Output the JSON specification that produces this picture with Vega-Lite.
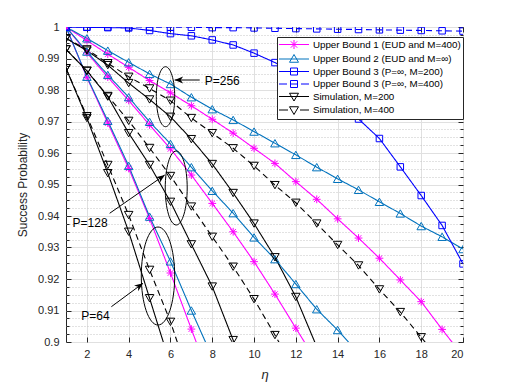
{
  "$schema": "https://vega.github.io/schema/vega-lite/v6.json",
  "width": 397,
  "height": 315,
  "autosize": {"type": "none"},
  "padding": {"left": 66, "top": 27, "right": 49, "bottom": 42},
  "background": "white",
  "config": {
    "font": "Liberation Sans",
    "view": {"stroke": "#262626", "strokeWidth": 1},
    "axis": {"domain": false, "labelFont": "Liberation Sans", "titleFont": "Liberation Sans", "labelColor": "#262626", "titleColor": "#262626", "tickColor": "#262626", "labelFontSize": 11, "titleFontWeight": "normal"},
    "legend": {"orient": "none", "legendX": 211, "legendY": 10, "title": null, "zindex": 1,
            "symbolSize": 100, "symbolOffset": 9.5, "labelOffset": 13.4, "rowPadding": 1.5, "padding": 2, "symbolOpacity": 1, "symbolFillColor": "transparent",
            "strokeColor": "#262626", "fillColor": "white", "labelFont": "Liberation Sans", "labelFontSize": 9.8, "labelColor": "#000000", "labelLimit": 300, "symbolStrokeWidth": 1}
  },
  "datasets": {
    "curves": [
      {"s":"Upper Bound 1 (EUD and M=400)","c":"256","x":1,"y":1.0},
      {"s":"Upper Bound 1 (EUD and M=400)","c":"256","x":2,"y":0.9957},
      {"s":"Upper Bound 1 (EUD and M=400)","c":"256","x":3,"y":0.9914},
      {"s":"Upper Bound 1 (EUD and M=400)","c":"256","x":4,"y":0.9872},
      {"s":"Upper Bound 1 (EUD and M=400)","c":"256","x":5,"y":0.9830},
      {"s":"Upper Bound 1 (EUD and M=400)","c":"256","x":6,"y":0.9791},
      {"s":"Upper Bound 1 (EUD and M=400)","c":"256","x":7,"y":0.9750},
      {"s":"Upper Bound 1 (EUD and M=400)","c":"256","x":8,"y":0.9707},
      {"s":"Upper Bound 1 (EUD and M=400)","c":"256","x":9,"y":0.9663},
      {"s":"Upper Bound 1 (EUD and M=400)","c":"256","x":10,"y":0.9615},
      {"s":"Upper Bound 1 (EUD and M=400)","c":"256","x":11,"y":0.9567},
      {"s":"Upper Bound 1 (EUD and M=400)","c":"256","x":12,"y":0.9509},
      {"s":"Upper Bound 1 (EUD and M=400)","c":"256","x":13,"y":0.9453},
      {"s":"Upper Bound 1 (EUD and M=400)","c":"256","x":14,"y":0.9391},
      {"s":"Upper Bound 1 (EUD and M=400)","c":"256","x":15,"y":0.9330},
      {"s":"Upper Bound 1 (EUD and M=400)","c":"256","x":16,"y":0.9266},
      {"s":"Upper Bound 1 (EUD and M=400)","c":"256","x":17,"y":0.9197},
      {"s":"Upper Bound 1 (EUD and M=400)","c":"256","x":18,"y":0.9128},
      {"s":"Upper Bound 1 (EUD and M=400)","c":"256","x":19,"y":0.9040},
      {"s":"Upper Bound 1 (EUD and M=400)","c":"256","x":20,"y":0.8955},
      {"s":"Upper Bound 1 (EUD and M=400)","c":"128","x":1,"y":1.0},
      {"s":"Upper Bound 1 (EUD and M=400)","c":"128","x":2,"y":0.9918},
      {"s":"Upper Bound 1 (EUD and M=400)","c":"128","x":3,"y":0.9841},
      {"s":"Upper Bound 1 (EUD and M=400)","c":"128","x":4,"y":0.9767},
      {"s":"Upper Bound 1 (EUD and M=400)","c":"128","x":5,"y":0.9689},
      {"s":"Upper Bound 1 (EUD and M=400)","c":"128","x":6,"y":0.9613},
      {"s":"Upper Bound 1 (EUD and M=400)","c":"128","x":7,"y":0.9530},
      {"s":"Upper Bound 1 (EUD and M=400)","c":"128","x":8,"y":0.9440},
      {"s":"Upper Bound 1 (EUD and M=400)","c":"128","x":9,"y":0.9350},
      {"s":"Upper Bound 1 (EUD and M=400)","c":"128","x":10,"y":0.9255},
      {"s":"Upper Bound 1 (EUD and M=400)","c":"128","x":11,"y":0.9152},
      {"s":"Upper Bound 1 (EUD and M=400)","c":"128","x":12,"y":0.9044},
      {"s":"Upper Bound 1 (EUD and M=400)","c":"128","x":13,"y":0.8937},
      {"s":"Upper Bound 1 (EUD and M=400)","c":"64","x":1,"y":1.0},
      {"s":"Upper Bound 1 (EUD and M=400)","c":"64","x":2,"y":0.9840},
      {"s":"Upper Bound 1 (EUD and M=400)","c":"64","x":3,"y":0.9695},
      {"s":"Upper Bound 1 (EUD and M=400)","c":"64","x":4,"y":0.9551},
      {"s":"Upper Bound 1 (EUD and M=400)","c":"64","x":5,"y":0.9392},
      {"s":"Upper Bound 1 (EUD and M=400)","c":"64","x":6,"y":0.9219},
      {"s":"Upper Bound 1 (EUD and M=400)","c":"64","x":7,"y":0.9041},
      {"s":"Upper Bound 1 (EUD and M=400)","c":"64","x":8,"y":0.8863},
      {"s":"Upper Bound 2 (EUD and M=∞)","c":"256","x":1,"y":1.0},
      {"s":"Upper Bound 2 (EUD and M=∞)","c":"256","x":2,"y":0.9964},
      {"s":"Upper Bound 2 (EUD and M=∞)","c":"256","x":3,"y":0.9925},
      {"s":"Upper Bound 2 (EUD and M=∞)","c":"256","x":4,"y":0.9888},
      {"s":"Upper Bound 2 (EUD and M=∞)","c":"256","x":5,"y":0.9851},
      {"s":"Upper Bound 2 (EUD and M=∞)","c":"256","x":6,"y":0.9819},
      {"s":"Upper Bound 2 (EUD and M=∞)","c":"256","x":7,"y":0.9777},
      {"s":"Upper Bound 2 (EUD and M=∞)","c":"256","x":8,"y":0.9739},
      {"s":"Upper Bound 2 (EUD and M=∞)","c":"256","x":9,"y":0.9705},
      {"s":"Upper Bound 2 (EUD and M=∞)","c":"256","x":10,"y":0.9668},
      {"s":"Upper Bound 2 (EUD and M=∞)","c":"256","x":11,"y":0.9631},
      {"s":"Upper Bound 2 (EUD and M=∞)","c":"256","x":12,"y":0.9594},
      {"s":"Upper Bound 2 (EUD and M=∞)","c":"256","x":13,"y":0.9555},
      {"s":"Upper Bound 2 (EUD and M=∞)","c":"256","x":14,"y":0.9518},
      {"s":"Upper Bound 2 (EUD and M=∞)","c":"256","x":15,"y":0.9483},
      {"s":"Upper Bound 2 (EUD and M=∞)","c":"256","x":16,"y":0.9445},
      {"s":"Upper Bound 2 (EUD and M=∞)","c":"256","x":17,"y":0.9408},
      {"s":"Upper Bound 2 (EUD and M=∞)","c":"256","x":18,"y":0.9368},
      {"s":"Upper Bound 2 (EUD and M=∞)","c":"256","x":19,"y":0.9334},
      {"s":"Upper Bound 2 (EUD and M=∞)","c":"256","x":20,"y":0.9295},
      {"s":"Upper Bound 2 (EUD and M=∞)","c":"128","x":1,"y":1.0},
      {"s":"Upper Bound 2 (EUD and M=∞)","c":"128","x":2,"y":0.9922},
      {"s":"Upper Bound 2 (EUD and M=∞)","c":"128","x":3,"y":0.9848},
      {"s":"Upper Bound 2 (EUD and M=∞)","c":"128","x":4,"y":0.9777},
      {"s":"Upper Bound 2 (EUD and M=∞)","c":"128","x":5,"y":0.9699},
      {"s":"Upper Bound 2 (EUD and M=∞)","c":"128","x":6,"y":0.9629},
      {"s":"Upper Bound 2 (EUD and M=∞)","c":"128","x":7,"y":0.9555},
      {"s":"Upper Bound 2 (EUD and M=∞)","c":"128","x":8,"y":0.9480},
      {"s":"Upper Bound 2 (EUD and M=∞)","c":"128","x":9,"y":0.9409},
      {"s":"Upper Bound 2 (EUD and M=∞)","c":"128","x":10,"y":0.9332},
      {"s":"Upper Bound 2 (EUD and M=∞)","c":"128","x":11,"y":0.9263},
      {"s":"Upper Bound 2 (EUD and M=∞)","c":"128","x":12,"y":0.9184},
      {"s":"Upper Bound 2 (EUD and M=∞)","c":"128","x":13,"y":0.9104},
      {"s":"Upper Bound 2 (EUD and M=∞)","c":"128","x":14,"y":0.9038},
      {"s":"Upper Bound 2 (EUD and M=∞)","c":"128","x":15,"y":0.8965},
      {"s":"Upper Bound 2 (EUD and M=∞)","c":"64","x":1,"y":1.0},
      {"s":"Upper Bound 2 (EUD and M=∞)","c":"64","x":2,"y":0.9842},
      {"s":"Upper Bound 2 (EUD and M=∞)","c":"64","x":3,"y":0.9702},
      {"s":"Upper Bound 2 (EUD and M=∞)","c":"64","x":4,"y":0.9559},
      {"s":"Upper Bound 2 (EUD and M=∞)","c":"64","x":5,"y":0.9398},
      {"s":"Upper Bound 2 (EUD and M=∞)","c":"64","x":6,"y":0.9256},
      {"s":"Upper Bound 2 (EUD and M=∞)","c":"64","x":7,"y":0.9100},
      {"s":"Upper Bound 2 (EUD and M=∞)","c":"64","x":8,"y":0.8952},
      {"s":"Upper Bound 3 (P=∞, M=200)","c":"inf","x":1,"y":1.0},
      {"s":"Upper Bound 3 (P=∞, M=200)","c":"inf","x":2,"y":0.9999},
      {"s":"Upper Bound 3 (P=∞, M=200)","c":"inf","x":3,"y":0.9998},
      {"s":"Upper Bound 3 (P=∞, M=200)","c":"inf","x":4,"y":0.9997},
      {"s":"Upper Bound 3 (P=∞, M=200)","c":"inf","x":5,"y":0.9989},
      {"s":"Upper Bound 3 (P=∞, M=200)","c":"inf","x":6,"y":0.9979},
      {"s":"Upper Bound 3 (P=∞, M=200)","c":"inf","x":7,"y":0.9972},
      {"s":"Upper Bound 3 (P=∞, M=200)","c":"inf","x":8,"y":0.9959},
      {"s":"Upper Bound 3 (P=∞, M=200)","c":"inf","x":9,"y":0.9943},
      {"s":"Upper Bound 3 (P=∞, M=200)","c":"inf","x":10,"y":0.9917},
      {"s":"Upper Bound 3 (P=∞, M=200)","c":"inf","x":11,"y":0.9887},
      {"s":"Upper Bound 3 (P=∞, M=200)","c":"inf","x":12,"y":0.9852},
      {"s":"Upper Bound 3 (P=∞, M=200)","c":"inf","x":13,"y":0.9810},
      {"s":"Upper Bound 3 (P=∞, M=200)","c":"inf","x":14,"y":0.9763},
      {"s":"Upper Bound 3 (P=∞, M=200)","c":"inf","x":15,"y":0.9708},
      {"s":"Upper Bound 3 (P=∞, M=200)","c":"inf","x":16,"y":0.9646},
      {"s":"Upper Bound 3 (P=∞, M=200)","c":"inf","x":17,"y":0.9556},
      {"s":"Upper Bound 3 (P=∞, M=200)","c":"inf","x":18,"y":0.9465},
      {"s":"Upper Bound 3 (P=∞, M=200)","c":"inf","x":19,"y":0.9370},
      {"s":"Upper Bound 3 (P=∞, M=200)","c":"inf","x":20,"y":0.9248},
      {"s":"Upper Bound 3 (P=∞, M=400)","c":"inf","x":1,"y":1.0},
      {"s":"Upper Bound 3 (P=∞, M=400)","c":"inf","x":2,"y":1.0},
      {"s":"Upper Bound 3 (P=∞, M=400)","c":"inf","x":3,"y":1.0},
      {"s":"Upper Bound 3 (P=∞, M=400)","c":"inf","x":4,"y":1.0},
      {"s":"Upper Bound 3 (P=∞, M=400)","c":"inf","x":5,"y":1.0},
      {"s":"Upper Bound 3 (P=∞, M=400)","c":"inf","x":6,"y":0.9999},
      {"s":"Upper Bound 3 (P=∞, M=400)","c":"inf","x":7,"y":0.9999},
      {"s":"Upper Bound 3 (P=∞, M=400)","c":"inf","x":8,"y":0.9998},
      {"s":"Upper Bound 3 (P=∞, M=400)","c":"inf","x":9,"y":0.9998},
      {"s":"Upper Bound 3 (P=∞, M=400)","c":"inf","x":10,"y":0.9997},
      {"s":"Upper Bound 3 (P=∞, M=400)","c":"inf","x":11,"y":0.9996},
      {"s":"Upper Bound 3 (P=∞, M=400)","c":"inf","x":12,"y":0.9995},
      {"s":"Upper Bound 3 (P=∞, M=400)","c":"inf","x":13,"y":0.9994},
      {"s":"Upper Bound 3 (P=∞, M=400)","c":"inf","x":14,"y":0.9993},
      {"s":"Upper Bound 3 (P=∞, M=400)","c":"inf","x":15,"y":0.9992},
      {"s":"Upper Bound 3 (P=∞, M=400)","c":"inf","x":16,"y":0.9991},
      {"s":"Upper Bound 3 (P=∞, M=400)","c":"inf","x":17,"y":0.9990},
      {"s":"Upper Bound 3 (P=∞, M=400)","c":"inf","x":18,"y":0.9989},
      {"s":"Upper Bound 3 (P=∞, M=400)","c":"inf","x":19,"y":0.9988},
      {"s":"Upper Bound 3 (P=∞, M=400)","c":"inf","x":20,"y":0.9987},
      {"s":"Simulation, M=200","c":"256","x":1,"y":0.9964},
      {"s":"Simulation, M=200","c":"256","x":2,"y":0.9925},
      {"s":"Simulation, M=200","c":"256","x":3,"y":0.9879},
      {"s":"Simulation, M=200","c":"256","x":4,"y":0.9822},
      {"s":"Simulation, M=200","c":"256","x":5,"y":0.9770},
      {"s":"Simulation, M=200","c":"256","x":6,"y":0.9715},
      {"s":"Simulation, M=200","c":"256","x":7,"y":0.9644},
      {"s":"Simulation, M=200","c":"256","x":8,"y":0.9565},
      {"s":"Simulation, M=200","c":"256","x":9,"y":0.9473},
      {"s":"Simulation, M=200","c":"256","x":10,"y":0.9376},
      {"s":"Simulation, M=200","c":"256","x":11,"y":0.9269},
      {"s":"Simulation, M=200","c":"256","x":12,"y":0.9143},
      {"s":"Simulation, M=200","c":"256","x":13,"y":0.8985},
      {"s":"Simulation, M=200","c":"128","x":1,"y":0.9929},
      {"s":"Simulation, M=200","c":"128","x":2,"y":0.9861},
      {"s":"Simulation, M=200","c":"128","x":3,"y":0.9779},
      {"s":"Simulation, M=200","c":"128","x":4,"y":0.9663},
      {"s":"Simulation, M=200","c":"128","x":5,"y":0.9562},
      {"s":"Simulation, M=200","c":"128","x":6,"y":0.9445},
      {"s":"Simulation, M=200","c":"128","x":7,"y":0.9310},
      {"s":"Simulation, M=200","c":"128","x":8,"y":0.9176},
      {"s":"Simulation, M=200","c":"128","x":9,"y":0.9006},
      {"s":"Simulation, M=200","c":"128","x":10,"y":0.8830},
      {"s":"Simulation, M=200","c":"64","x":1,"y":0.9869},
      {"s":"Simulation, M=200","c":"64","x":2,"y":0.9711},
      {"s":"Simulation, M=200","c":"64","x":3,"y":0.9536},
      {"s":"Simulation, M=200","c":"64","x":4,"y":0.9350},
      {"s":"Simulation, M=200","c":"64","x":5,"y":0.9139},
      {"s":"Simulation, M=200","c":"64","x":6,"y":0.8927},
      {"s":"Simulation, M=400","c":"256","x":1,"y":0.9964},
      {"s":"Simulation, M=400","c":"256","x":2,"y":0.9929},
      {"s":"Simulation, M=400","c":"256","x":3,"y":0.9885},
      {"s":"Simulation, M=400","c":"256","x":4,"y":0.9842},
      {"s":"Simulation, M=400","c":"256","x":5,"y":0.9805},
      {"s":"Simulation, M=400","c":"256","x":6,"y":0.9766},
      {"s":"Simulation, M=400","c":"256","x":7,"y":0.9711},
      {"s":"Simulation, M=400","c":"256","x":8,"y":0.9663},
      {"s":"Simulation, M=400","c":"256","x":9,"y":0.9615},
      {"s":"Simulation, M=400","c":"256","x":10,"y":0.9559},
      {"s":"Simulation, M=400","c":"256","x":11,"y":0.9498},
      {"s":"Simulation, M=400","c":"256","x":12,"y":0.9442},
      {"s":"Simulation, M=400","c":"256","x":13,"y":0.9376},
      {"s":"Simulation, M=400","c":"256","x":14,"y":0.9308},
      {"s":"Simulation, M=400","c":"256","x":15,"y":0.9243},
      {"s":"Simulation, M=400","c":"256","x":16,"y":0.9167},
      {"s":"Simulation, M=400","c":"256","x":17,"y":0.9095},
      {"s":"Simulation, M=400","c":"256","x":18,"y":0.9015},
      {"s":"Simulation, M=400","c":"256","x":19,"y":0.8933},
      {"s":"Simulation, M=400","c":"128","x":1,"y":0.9929},
      {"s":"Simulation, M=400","c":"128","x":2,"y":0.9861},
      {"s":"Simulation, M=400","c":"128","x":3,"y":0.9781},
      {"s":"Simulation, M=400","c":"128","x":4,"y":0.9702},
      {"s":"Simulation, M=400","c":"128","x":5,"y":0.9616},
      {"s":"Simulation, M=400","c":"128","x":6,"y":0.9527},
      {"s":"Simulation, M=400","c":"128","x":7,"y":0.9430},
      {"s":"Simulation, M=400","c":"128","x":8,"y":0.9334},
      {"s":"Simulation, M=400","c":"128","x":9,"y":0.9239},
      {"s":"Simulation, M=400","c":"128","x":10,"y":0.9136},
      {"s":"Simulation, M=400","c":"128","x":11,"y":0.9022},
      {"s":"Simulation, M=400","c":"128","x":12,"y":0.8905},
      {"s":"Simulation, M=400","c":"64","x":1,"y":0.9869},
      {"s":"Simulation, M=400","c":"64","x":2,"y":0.9717},
      {"s":"Simulation, M=400","c":"64","x":3,"y":0.9562},
      {"s":"Simulation, M=400","c":"64","x":4,"y":0.9403},
      {"s":"Simulation, M=400","c":"64","x":5,"y":0.9229},
      {"s":"Simulation, M=400","c":"64","x":6,"y":0.9064},
      {"s":"Simulation, M=400","c":"64","x":7,"y":0.8867}
    ],
    "ann": [
      {"label":"P=256","tx":7.64,"ty":0.98286,"ax":7.40,"ay":0.98317,"hx":6.20,"hy":0.98317,"ex":5.763,"ey":0.97787},
      {"label":"P=128","tx":1.316,"ty":0.93778,"ax":3.089,"ay":0.94086,"hx":5.724,"hy":0.95302,"ex":6.275,"ey":0.94889},
      {"label":"P=64","tx":1.733,"ty":0.90825,"ax":3.171,"ay":0.91121,"hx":4.685,"hy":0.91863,"ex":5.403,"ey":0.92095}
    ]
  },
  "resolve": {"axis": {"x": "independent", "y": "independent"}},
  "layer": [
    {
      "data": {"name": "curves"},
      "mark": {"type": "point", "opacity": 0},
      "encoding": {
        "x": {"field": "x", "type": "quantitative", "scale": {"domain": [1, 20], "nice": false, "zero": false},
          "axis": {"orient": "bottom", "values": [2,4,6,8,10,12,14,16,18,20], "grid": true, "gridColor": "#e0e0e0", "gridWidth": 1, "tickSize": -5, "labelPadding": 11, "title": "η", "titleFontStyle": "italic", "titleFontSize": 13, "titlePadding": 9}},
        "y": {"field": "y", "type": "quantitative", "scale": {"domain": [0.9, 1], "nice": false, "zero": false},
          "axis": {"orient": "left", "values": [0.9025,0.905,0.9075,0.9125,0.915,0.9175,0.9225,0.925,0.9275,0.9325,0.935,0.9375,0.9425,0.945,0.9475,0.9525,0.955,0.9575,0.9625,0.965,0.9675,0.9725,0.975,0.9775,0.9825,0.985,0.9875,0.9925,0.995,0.9975], "grid": true, "gridDash": [1, 2], "gridColor": "#c4c4c4", "tickSize": -3, "labels": false, "title": null}}
      }
    },
    {
      "data": {"name": "curves"},
      "mark": {"type": "point", "opacity": 0},
      "encoding": {
        "x": {"field": "x", "type": "quantitative", "scale": {"domain": [1, 20], "nice": false, "zero": false},
          "axis": {"orient": "top", "values": [2,4,6,8,10,12,14,16,18,20], "grid": false, "tickSize": -5, "labels": false, "title": null}},
        "y": {"field": "y", "type": "quantitative", "scale": {"domain": [0.9, 1], "nice": false, "zero": false},
          "axis": {"orient": "right", "values": [0.9025,0.905,0.9075,0.9125,0.915,0.9175,0.9225,0.925,0.9275,0.9325,0.935,0.9375,0.9425,0.945,0.9475,0.9525,0.955,0.9575,0.9625,0.965,0.9675,0.9725,0.975,0.9775,0.9825,0.985,0.9875,0.9925,0.995,0.9975], "grid": false, "tickSize": -3, "labels": false, "title": null}}
      }
    },
    {
      "data": {"name": "curves"},
      "mark": {"type": "point", "opacity": 0},
      "encoding": {
        "x": {"field": "x", "type": "quantitative", "scale": {"domain": [1, 20], "nice": false, "zero": false}, "axis": null},
        "y": {"field": "y", "type": "quantitative", "scale": {"domain": [0.9, 1], "nice": false, "zero": false},
          "axis": {"orient": "left", "values": [0.9,0.91,0.92,0.93,0.94,0.95,0.96,0.97,0.98,0.99,1], "format": ".2~f", "grid": true, "gridColor": "#e0e0e0", "tickSize": -5, "labelPadding": 12, "title": "Success Probability", "titleFontSize": 12, "titlePadding": 8}}
      }
    },
    {
      "data": {"name": "curves"},
      "mark": {"type": "point", "opacity": 0},
      "encoding": {
        "x": {"field": "x", "type": "quantitative", "scale": {"domain": [1, 20], "nice": false, "zero": false}, "axis": null},
        "y": {"field": "y", "type": "quantitative", "scale": {"domain": [0.9, 1], "nice": false, "zero": false},
          "axis": {"orient": "right", "values": [0.9,0.91,0.92,0.93,0.94,0.95,0.96,0.97,0.98,0.99,1], "grid": false, "tickSize": -5, "labels": false, "title": null}}
      }
    },
    {
      "data": {"name": "curves"},
      "mark": {"type": "line", "clip": true, "strokeWidth": 1.1},
      "encoding": {
        "x": {"field": "x", "type": "quantitative", "scale": {"domain": [1, 20], "nice": false, "zero": false}, "axis": null},
        "y": {"field": "y", "type": "quantitative", "scale": {"domain": [0.9, 1], "nice": false, "zero": false}, "axis": null},
        "detail": {"field": "c"},
        "color": {"field": "s", "type": "nominal",
          "scale": {"domain": ["Upper Bound 1 (EUD and M=400)","Upper Bound 2 (EUD and M=∞)","Upper Bound 3 (P=∞, M=200)","Upper Bound 3 (P=∞, M=400)","Simulation, M=200","Simulation, M=400"],
                    "range": ["#FF00FF","#0072BD","#0000FF","#0000FF","#000000","#000000"]}},
        "strokeDash": {"condition": {"test": "datum.s === 'Simulation, M=400' || datum.s === 'Upper Bound 3 (P=∞, M=400)'", "value": [6, 4]}, "value": [1, 0]}
      }
    },
    {
      "data": {"name": "curves"},
      "mark": {"type": "point", "filled": false, "clip": true, "strokeWidth": 1, "opacity": 1},
      "encoding": {
        "x": {"field": "x", "type": "quantitative", "scale": {"domain": [1, 20], "nice": false, "zero": false}, "axis": null},
        "y": {"field": "y", "type": "quantitative", "scale": {"domain": [0.9, 1], "nice": false, "zero": false}, "axis": null},
        "color": {"field": "s", "type": "nominal"},
        "shape": {"condition": [
            {"test": "datum.s === 'Upper Bound 1 (EUD and M=400)'", "value": "M-0.9,0H0.9M0,-0.9V0.9M-0.64,-0.64L0.64,0.64M-0.64,0.64L0.64,-0.64"},
            {"test": "datum.s === 'Upper Bound 2 (EUD and M=∞)'", "value": "triangle-up"},
            {"test": "indexof(datum.s, 'Upper Bound 3') === 0", "value": "square"}
          ], "value": "triangle-down"},
        "size": {"condition": [
            {"test": "indexof(datum.s, 'Upper Bound 3') === 0", "value": 42},
            {"test": "datum.s === 'Upper Bound 1 (EUD and M=400)'", "value": 75}
          ], "value": 72}
      }
    },
    {
      "data": {"name": "curves"},
      "mark": {"type": "point", "filled": false, "opacity": 0},
      "encoding": {
        "x": {"field": "x", "type": "quantitative", "scale": {"domain": [1, 20], "nice": false, "zero": false}, "axis": null},
        "y": {"field": "y", "type": "quantitative", "scale": {"domain": [0.9, 1], "nice": false, "zero": false}, "axis": null},
        "color": {"field": "s", "type": "nominal"},
        "shape": {"field": "s", "type": "nominal",
          "scale": {"domain": ["Upper Bound 1 (EUD and M=400)","Upper Bound 2 (EUD and M=∞)","Upper Bound 3 (P=∞, M=200)","Upper Bound 3 (P=∞, M=400)","Simulation, M=200","Simulation, M=400"],
                    "range": ["M-3,0H3M0,-0.9V0.9M-0.64,-0.64L0.64,0.64M-0.64,0.64L0.64,-0.64","M-3,0H3M0,-0.9L0.9,0.65H-0.9Z","M-3,0H3M-0.7,-0.7H0.7V0.7H-0.7Z","M-3,0H-1.4M1.4,0H3M-0.7,0H0.7M-0.7,-0.7H0.7V0.7H-0.7Z","M-3,0H3M-0.9,-0.65H0.9L0,0.9Z","M-3,0H-1.2M1.2,0H3M-0.9,-0.65H0.9L0,0.9Z"]}}
      }
    },
    {
      "data": {"name": "ann"},
      "transform": [{"filter": "datum.label === 'P=256'"}],
      "mark": {"type": "point", "filled": false, "color": "#000000", "strokeWidth": 1, "opacity": 1, "size": 3600,
        "shape": "M0,-1C0.1695,-1 0.307,-0.5523 0.307,0C0.307,0.5523 0.1695,1 0,1C-0.1695,1 -0.307,0.5523 -0.307,0C-0.307,-0.5523 -0.1695,-1 0,-1Z"},
      "encoding": {
        "x": {"field": "ex", "type": "quantitative", "scale": {"domain": [1, 20], "nice": false, "zero": false}, "axis": null},
        "y": {"field": "ey", "type": "quantitative", "scale": {"domain": [0.9, 1], "nice": false, "zero": false}, "axis": null}
      }
    },
    {
      "data": {"name": "ann"},
      "transform": [{"filter": "datum.label === 'P=128'"}],
      "mark": {"type": "point", "filled": false, "color": "#000000", "strokeWidth": 1, "opacity": 1, "size": 5476,
        "shape": "M0,-1C0.164,-1 0.297,-0.5523 0.297,0C0.297,0.5523 0.164,1 0,1C-0.164,1 -0.297,0.5523 -0.297,0C-0.297,-0.5523 -0.164,-1 0,-1Z"},
      "encoding": {
        "x": {"field": "ex", "type": "quantitative", "scale": {"domain": [1, 20], "nice": false, "zero": false}, "axis": null},
        "y": {"field": "ey", "type": "quantitative", "scale": {"domain": [0.9, 1], "nice": false, "zero": false}, "axis": null}
      }
    },
    {
      "data": {"name": "ann"},
      "transform": [{"filter": "datum.label === 'P=64'"}],
      "mark": {"type": "point", "filled": false, "color": "#000000", "strokeWidth": 1, "opacity": 1, "size": 9604,
        "shape": "M0,-1C0.1883,-1 0.341,-0.5523 0.341,0C0.341,0.5523 0.1883,1 0,1C-0.1883,1 -0.341,0.5523 -0.341,0C-0.341,-0.5523 -0.1883,-1 0,-1Z"},
      "encoding": {
        "x": {"field": "ex", "type": "quantitative", "scale": {"domain": [1, 20], "nice": false, "zero": false}, "axis": null},
        "y": {"field": "ey", "type": "quantitative", "scale": {"domain": [0.9, 1], "nice": false, "zero": false}, "axis": null}
      }
    },
    {
      "data": {"name": "ann"},
      "mark": {"type": "rule", "color": "#000000", "strokeWidth": 1},
      "encoding": {
        "x": {"field": "ax", "type": "quantitative", "scale": {"domain": [1, 20], "nice": false, "zero": false}, "axis": null},
        "y": {"field": "ay", "type": "quantitative", "scale": {"domain": [0.9, 1], "nice": false, "zero": false}, "axis": null},
        "x2": {"field": "hx"},
        "y2": {"field": "hy"}
      }
    },
    {
      "data": {"name": "ann"},
      "transform": [{"filter": "datum.label === 'P=256'"}],
      "mark": {"type": "point", "filled": true, "color": "#000000", "opacity": 1, "size": 100, "angle": 0,
        "shape": "M0,0L1.7,-0.7L1.2,0L1.7,0.7Z"},
      "encoding": {
        "x": {"field": "hx", "type": "quantitative", "scale": {"domain": [1, 20], "nice": false, "zero": false}, "axis": null},
        "y": {"field": "hy", "type": "quantitative", "scale": {"domain": [0.9, 1], "nice": false, "zero": false}, "axis": null}
      }
    },
    {
      "data": {"name": "ann"},
      "transform": [{"filter": "datum.label !== 'P=256'"}],
      "mark": {"type": "point", "filled": true, "color": "#000000", "opacity": 1, "size": 100, "angle": 144,
        "shape": "M0,0L1.7,-0.7L1.2,0L1.7,0.7Z"},
      "encoding": {
        "x": {"field": "hx", "type": "quantitative", "scale": {"domain": [1, 20], "nice": false, "zero": false}, "axis": null},
        "y": {"field": "hy", "type": "quantitative", "scale": {"domain": [0.9, 1], "nice": false, "zero": false}, "axis": null}
      }
    },
    {
      "data": {"name": "ann"},
      "mark": {"type": "text", "align": "left", "baseline": "middle", "font": "Liberation Sans", "fontSize": 12, "color": "#000000"},
      "encoding": {
        "x": {"field": "tx", "type": "quantitative", "scale": {"domain": [1, 20], "nice": false, "zero": false}, "axis": null},
        "y": {"field": "ty", "type": "quantitative", "scale": {"domain": [0.9, 1], "nice": false, "zero": false}, "axis": null},
        "text": {"field": "label"}
      }
    }
  ]
}
